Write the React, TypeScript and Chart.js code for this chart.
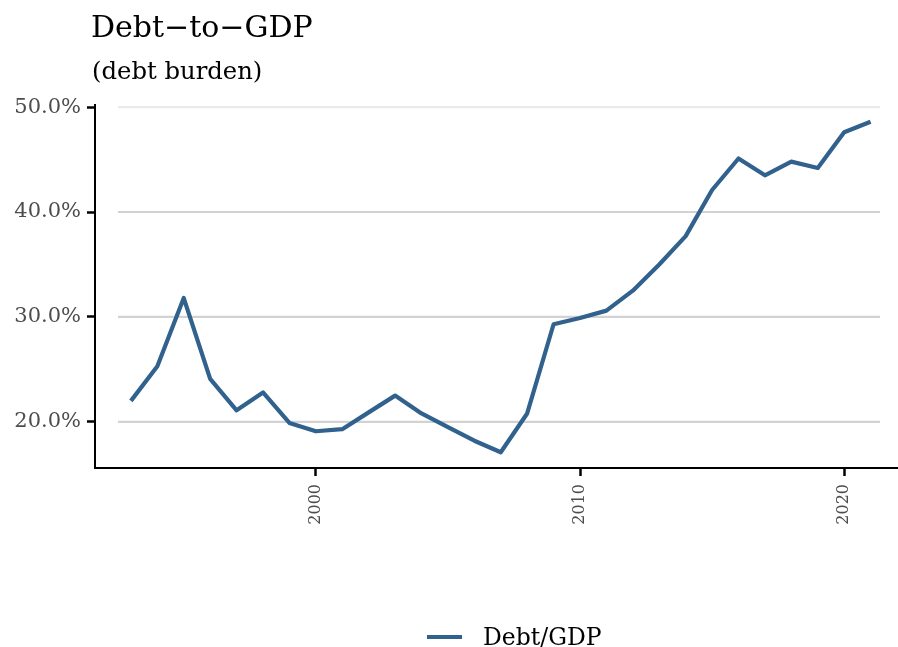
import React, { useEffect, useRef } from 'react';
import { Chart, registerables } from 'chart.js';

Chart.register(...registerables);

const years = [
  1993, 1994, 1995, 1996, 1997, 1998, 1999, 2000, 2001, 2002,
  2003, 2004, 2005, 2006, 2007, 2008, 2009, 2010, 2011, 2012,
  2013, 2014, 2015, 2016, 2017, 2018, 2019, 2020, 2021,
];
const debtToGdp = [
  22.0, 25.3, 31.8, 24.1, 21.1, 22.8, 19.9, 19.1, 19.3, 20.9,
  22.5, 20.8, 19.5, 18.2, 17.1, 20.8, 29.3, 29.9, 30.6, 32.5,
  35.0, 37.7, 42.1, 45.1, 43.5, 44.8, 44.2, 47.6, 48.6,
];
const xTickYears = [2000, 2010, 2020];
const yTickValues = [20, 30, 40, 50];
const titleText = 'Debt\u2212to\u2212GDP';
const subtitleText = '(debt burden)';
const seriesLabel = 'Debt/GDP';

const LINE_COLOR = '#31618d';
const TICK_TEXT = '#4d4d4d';

export default function App() {
  const canvasRef = useRef<HTMLCanvasElement | null>(null);

  useEffect(() => {
    const canvas = canvasRef.current;
    if (!canvas) return;

    const gridPlugin = {
      id: 'panelGrid',
      beforeDatasetsDraw(chart: any) {
        const { ctx, chartArea, scales } = chart;
        const yScale = scales.y;
        ctx.save();
        ctx.lineWidth = 2.2;
        yTickValues.forEach((v) => {
          const y = yScale.getPixelForValue(v);
          ctx.strokeStyle = v === 50 ? '#ebebeb' : '#d2d2d2';
          ctx.beginPath();
          ctx.moveTo(chartArea.left + 23, y);
          ctx.lineTo(chartArea.right - 17, y);
          ctx.stroke();
        });
        ctx.restore();
      },
    };

    const textPlugin = {
      id: 'titlesLegend',
      afterDraw(chart: any) {
        const { ctx } = chart;
        ctx.save();
        ctx.fillStyle = '#000';
        ctx.textAlign = 'left';
        ctx.textBaseline = 'alphabetic';
        ctx.font = '30px "DejaVu Serif"';
        ctx.fillText(titleText, 91, 37);
        ctx.font = '24.3px "DejaVu Serif"';
        ctx.fillText(subtitleText, 92, 79);

        // legend
        ctx.strokeStyle = LINE_COLOR;
        ctx.lineWidth = 4.2;
        ctx.beginPath();
        ctx.moveTo(427, 637);
        ctx.lineTo(462, 637);
        ctx.stroke();
        ctx.fillStyle = '#000';
        ctx.font = '23.5px "DejaVu Serif"';
        ctx.fillText(seriesLabel, 483, 645);
        ctx.restore();
      },
    };

    const chart = new Chart(canvas, {
      type: 'line',
      data: {
        datasets: [
          {
            label: seriesLabel,
            data: years.map((yr, i) => ({ x: yr, y: debtToGdp[i] })),
            borderColor: LINE_COLOR,
            backgroundColor: LINE_COLOR,
            borderWidth: 4.2,
            pointRadius: 0,
            pointHoverRadius: 0,
            tension: 0,
            borderJoinStyle: 'round',
            borderCapStyle: 'butt',
          },
        ],
      },
      options: {
        animation: false,
        responsive: true,
        maintainAspectRatio: false,
        layout: { padding: { top: 105, left: 0, right: 1, bottom: 79 } },
        plugins: {
          legend: { display: false },
          title: { display: false },
          tooltip: { enabled: false },
        },
        scales: {
          x: {
            type: 'linear',
            min: 1991.64,
            max: 2022.0,
            afterBuildTicks(scale: any) {
              scale.ticks = xTickYears.map((v) => ({ value: v }));
            },
            afterFit(scale: any) {
              scale.height = 100;
            },
            ticks: {
              minRotation: 90,
              maxRotation: 90,
              autoSkip: false,
              padding: 8,
              color: TICK_TEXT,
              font: { family: '"DejaVu Serif"', size: 16 },
              callback: (v: any) => String(v),
            },
            grid: {
              drawOnChartArea: false,
              drawTicks: true,
              tickLength: 8,
              tickColor: '#000',
              tickWidth: 2.5,
              color: '#000',
            },
            border: { display: true, color: '#000', width: 2 },
          },
          y: {
            type: 'linear',
            min: 15.6,
            max: 50.2,
            afterBuildTicks(scale: any) {
              scale.ticks = yTickValues.map((v) => ({ value: v }));
            },
            afterFit(scale: any) {
              scale.width = 95;
            },
            ticks: {
              padding: 6,
              color: TICK_TEXT,
              font: { family: '"DejaVu Serif"', size: 21 },
              callback: (v: any) => Number(v).toFixed(1) + '%',
            },
            grid: {
              drawOnChartArea: false,
              drawTicks: true,
              tickLength: 8,
              tickColor: '#000',
              tickWidth: 2.5,
              color: '#000',
            },
            border: { display: true, color: '#000', width: 2 },
          },
        },
      },
      plugins: [gridPlugin, textPlugin],
    } as any);

    return () => {
      chart.destroy();
    };
  }, []);

  return (
    <div style={{ position: 'absolute', left: 0, top: 0, width: 898, height: 647, background: '#fff' }}>
      <canvas ref={canvasRef} />
    </div>
  );
}
